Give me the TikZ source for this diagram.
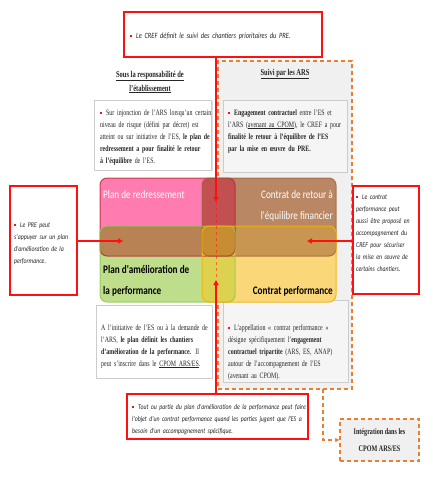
\documentclass[tikz,border=0pt]{standalone}
\usepackage{fontspec}
\setmainfont{Liberation Serif}[FakeStretch=0.72]
\newfontfamily\calib{Carlito}[FakeStretch=0.8]
\usetikzlibrary{arrows.meta,shadows}
\definecolor{cred}{HTML}{FF1010}
\definecolor{corange}{HTML}{ED7D31}
\definecolor{cpink}{HTML}{FF7BB0}
\definecolor{cbrown}{HTML}{B98764}
\definecolor{cgreen}{HTML}{BEDE8C}
\definecolor{cyellow}{HTML}{FAD778}
\definecolor{cpb}{HTML}{C35050}
\definecolor{cpg}{HTML}{B98255}
\definecolor{cby}{HTML}{C89650}
\definecolor{cgy}{HTML}{DCD250}
\definecolor{cmid}{HTML}{C88C32}
\definecolor{txt}{HTML}{262626}
\definecolor{bpink}{HTML}{B42828}
\definecolor{bbrown}{HTML}{A0643C}
\definecolor{bgreen}{HTML}{8CC850}
\definecolor{byellow}{HTML}{F5B400}
\newcommand{\bul}{\makebox[6pt][l]{\textcolor{cred}{\rule[1pt]{1.8pt}{1.8pt}}}}
\newcommand{\hang}{\hangindent=6pt\hangafter=1 }
\begin{document}
\begin{tikzpicture}[x=1pt,y=-1pt,
  redbox/.style={draw=cred, line width=1.5pt, fill=white, inner sep=0pt},
  orbox/.style={draw=corange, line width=1.5pt, dash pattern=on 4pt off 3pt, fill=black!6, inner sep=0pt},
  tboxw/.style={draw=black!20, line width=0.6pt, fill=white, inner sep=0pt, drop shadow={opacity=0.25,shadow xshift=1pt,shadow yshift=-1pt}},
  tboxg/.style={draw=black!20, line width=0.6pt, fill=black!4, inner sep=0pt},
  body/.style={anchor=base west, inner sep=0pt, text width=150pt, align=left, text=txt, font=\fontsize{8.2}{12}\selectfont},
  ital/.style={anchor=base west, inner sep=0pt, text width=#1, align=left, text=txt, font=\calib\itshape\fontsize{7.3}{12}\selectfont},
  head/.style={inner sep=0pt, align=center, text=txt, font=\bfseries\fontsize{9}{14}\selectfont},
  lab/.style={inner sep=0pt, font=\calib\fontsize{11.5}{21}\selectfont},
  labb/.style={inner sep=0pt, font=\calib\bfseries\fontsize{11.5}{21}\selectfont},
  redarrow/.style={draw=cred, line width=1.5pt, -{Triangle[length=5pt,width=5pt]}},
  orarrow/.style={draw=corange, line width=1.5pt, dash pattern=on 4pt off 3pt, -{Triangle[length=4pt,width=4pt]}},
  rr/.style={rounded corners=7pt}
]
\useasboundingbox (0,0) rectangle (433,499);
\fill[white] (0,0) rectangle (433,499);

% right panel
\node[orbox, minimum width=134pt, minimum height=328pt] (ars) at (285,225) {};
\node[head] (harsl) at (285,74) {\underline{Suivi par les ARS}};
\node[head] (hetab) at (150,82) {\underline{Sous la responsabilité de}\\\underline{l'établissement}};

% text boxes
\node[tboxw, minimum width=117pt, minimum height=70pt] (tl) at (153,135) {};
\node[tboxg, minimum width=124pt, minimum height=72pt] (tr) at (285,136) {};
\node[tboxw, minimum width=116pt, minimum height=73pt] (bl) at (154,341.5) {};
\node[tboxg, minimum width=125pt, minimum height=82pt] (br) at (285.5,341) {};

\node[body] (tlt) at (100,115) {\hang\bul Sur injonction de l'ARS lorsqu'un certain\\
niveau de risque (défini par décret) est\\
atteint ou sur initiative de l'ES, \textbf{le plan de}\\
\textbf{redressement a pour finalité le retour}\\
\textbf{à l'équilibre} de l'ES.};
\node[body] (trt) at (228,115) {\hang\bul \textbf{Engagement contractuel} entre l'ES et\\
l'ARS (\underline{avenant au CPOM}), le CREF a pour\\
\textbf{finalité le retour à l'équilibre de l'ES}\\
\textbf{par la mise en œuvre du PRE.}};
\node[body] (blt) at (101,330) {A l'initiative de l'ES ou à la demande de\\
l'ARS, \textbf{le plan définit les chantiers}\\
\textbf{d'amélioration de la performance.} Il\\
peut s'inscrire dans le \underline{CPOM ARS/ES}.};
\node[body] (brt) at (228,330) {\hang\bul L'appellation « contrat performance »\\
désigne spécifiquement l'\textbf{engagement}\\
\textbf{contractuel tripartite} (ARS, ES, ANAP)\\
autour de l'accompagnement de l'ES\\
(avenant au CPOM).};

% red boxes
\node[redbox, minimum width=198pt, minimum height=45pt] (cref) at (223,34.5) {};
\node[ital=190pt, font=\calib\itshape\fontsize{8}{12}\selectfont] (creft) at (130,38) {\bul Le CREF définit le suivi des chantiers prioritaires du PRE.};
\node[redbox, minimum width=67pt, minimum height=109pt] (lbox) at (43.5,240.5) {};
\node[ital=70pt] (lboxt) at (14,227) {\hang\bul Le PRE peut\\s'appuyer sur un plan\\d'amélioration de la\\performance.};
\node[redbox, minimum width=66pt, minimum height=108pt] (rbox) at (386,240) {};
\node[ital=70pt] (rboxt) at (356,199) {\hang\bul Le contrat\\performance peut\\aussi être proposé en\\accompagnement du\\CREF pour sécuriser\\la mise en œuvre de\\certains chantiers.};
\node[redbox, minimum width=181pt, minimum height=45pt] (bbox) at (217.5,416.5) {};
\node[ital=190pt] (bboxt) at (132,409) {\hang\bul Tout ou partie du plan d'amélioration de la performance peut faire\\l'objet d'un contrat performance quand les parties jugent que l'ES a\\besoin d'un accompagnement spécifique.};

% integration box
\node[orbox, minimum width=79pt, minimum height=42pt, align=center, font=\bfseries\fontsize{8.5}{17}\selectfont, text=txt] (integ) at (379.5,440) {Intégration dans les\\CPOM ARS/ES};
\coordinate (pbot) at (323,389);
\draw[orarrow] (pbot) |- (integ.west);

% centre shapes
\fill[cpink, rr] (100,178) rectangle (235,256);
\fill[cbrown, rr] (202,178) rectangle (336,256);
\fill[cgreen, rr] (100,226) rectangle (235,302);
\fill[cyellow, rr] (202,226) rectangle (336,302);
\begin{scope}\clip[rr] (100,178) rectangle (235,256); \fill[cpb, rr] (202,178) rectangle (336,256); \end{scope}
\begin{scope}\clip[rr] (100,178) rectangle (235,256); \fill[cpg, rr] (100,226) rectangle (235,302); \end{scope}
\begin{scope}\clip[rr] (202,178) rectangle (336,256); \fill[cby, rr] (202,226) rectangle (336,302); \end{scope}
\begin{scope}\clip[rr] (100,226) rectangle (235,302); \fill[cgy, rr] (202,226) rectangle (336,302); \end{scope}
\begin{scope}\clip[rr] (100,178) rectangle (235,256); \clip[rr] (202,226) rectangle (336,302);
  \clip[rr] (202,178) rectangle (336,256); \clip[rr] (100,226) rectangle (235,302);
  \fill[cmid] (100,178) rectangle (336,302); \end{scope}
\draw[rr, line width=1pt, draw=bpink, draw opacity=0.8] (100,178) rectangle (235,256);
\draw[rr, line width=1pt, draw=bbrown, draw opacity=0.8] (202,178) rectangle (336,256);
\draw[rr, line width=1pt, draw=bgreen, draw opacity=0.8] (100,226) rectangle (235,302);
\draw[rr, line width=1pt, draw=byellow, draw opacity=0.9] (202,226) rectangle (336,302);

\node[lab, anchor=base west, text=white] (lpr) at (103,198) {Plan de redressement};
\node[lab, anchor=base east, text=white, align=right] (lcr) at (333,219) {Contrat de retour à\\l'équilibre financier};
\node[labb, anchor=base west, align=left] (lpa) at (103,294) {Plan d'amélioration de\\la performance};
\node[labb, anchor=base east] (lcp) at (333,294) {Contrat performance};

% red connectors
\coordinate (topA) at (216,202);
\coordinate (botA) at (216,280);
\coordinate (lA) at (123,241);
\coordinate (rA) at (307,241);
\draw[redarrow] (cref.south -| topA) -- (topA);
\draw[redarrow] (bbox.north -| botA) -- (botA);
\draw[draw=cred, line width=0.8pt, dashed, draw opacity=0.5] (topA) -- (botA);
\draw[redarrow] (lbox.east |- lA) -- (lA);
\draw[redarrow] (rbox.west |- rA) -- (rA);
\end{tikzpicture}
\end{document}
